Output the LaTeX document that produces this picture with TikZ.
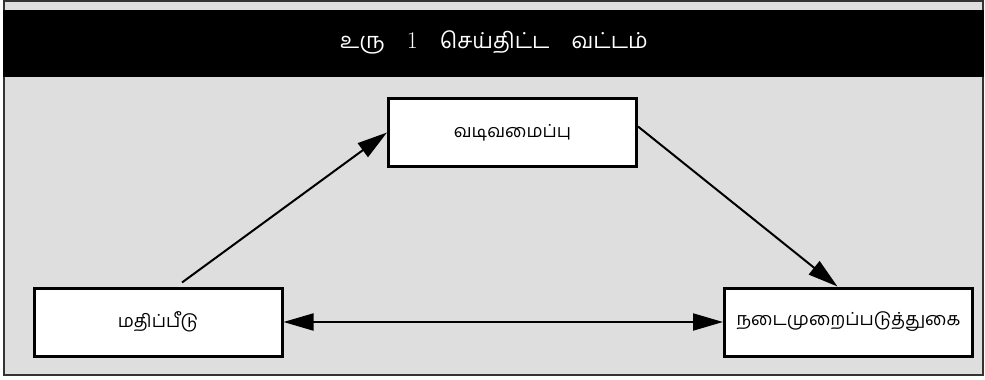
\documentclass[tikz,border=0pt]{standalone}
\usepackage{fontspec}
\newfontfamily\tamil[Script=Tamil]{Hind Madurai}
\usetikzlibrary{arrows.meta,calc}
\definecolor{panelgrey}{HTML}{DEDEDE}
\definecolor{framegrey}{HTML}{333333}
\begin{document}
\begin{tikzpicture}[x=1pt,y=-1pt,
  stagebox/.style={draw=black, line width=3pt, fill=white, minimum width=248pt,
    minimum height=68pt, inner sep=0pt, font=\tamil\fontsize{18}{22}\selectfont},
  flow/.style={line width=2pt, -{Triangle[length=30pt,width=17pt]}},
  flowboth/.style={line width=2pt, {Triangle[length=30pt,width=17pt]}-{Triangle[length=30pt,width=17pt]}},
  titletext/.style={text=white, font=\tamil\fontsize{22}{26}\selectfont, inner sep=0pt}]
\useasboundingbox (0,0) rectangle (985,380);
\fill[white] (0,0) rectangle (985,380);
\draw[framegrey, line width=2pt, fill=panelgrey] (4,1) rectangle (983,375);
\fill[black] (3,10) rectangle (984,77);
\node[titletext] (title) at (494,42) {உரு\hspace{22pt}{\rmfamily\fontsize{24}{26}\selectfont 1}\hspace{22pt}செய்திட்ட\hspace{22pt}வட்டம்};
\node[stagebox] (design) at (512.5,132.5) {வடிவமைப்பு};
\node[stagebox] (eval) at (158,322) {மதிப்பீடு};
\node[stagebox] (impl) at (848.5,322) {நடைமுறைப்படுத்துகை};
\coordinate (evalout) at ($(eval.north)+(24,-4)$);
\coordinate (designout) at ($(design.east)+(0,-6)$);
\coordinate (implin) at ($(impl.north)+(-11,0)$);
\draw[flow] (evalout) -- (design.west);
\draw[flow] (designout) -- (implin);
\draw[flowboth] (eval.east) -- (impl.west);
\end{tikzpicture}
\end{document}
